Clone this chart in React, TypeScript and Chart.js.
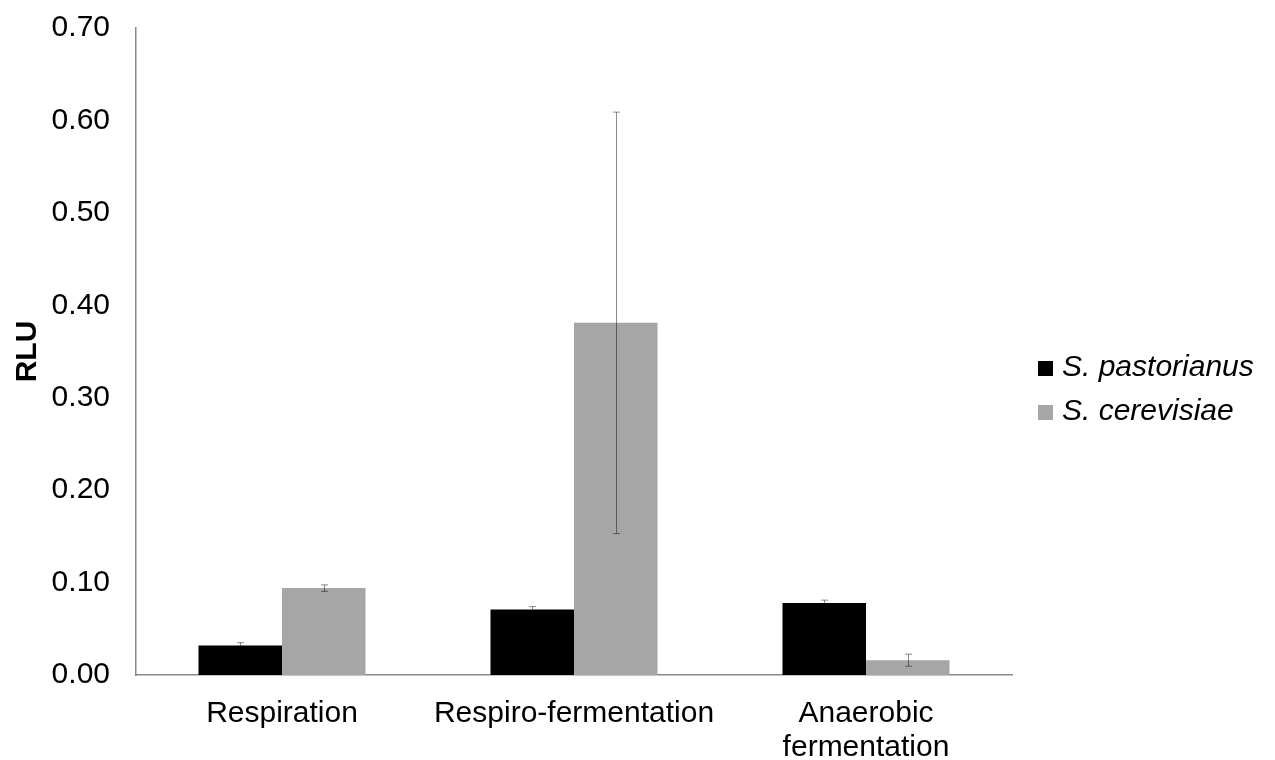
import React, { useEffect, useRef } from "react";
import { Chart, registerables } from "chart.js";

Chart.register(...registerables);

// Growth conditions on the x axis
const categories: (string | string[])[] = [
  "Respiration",
  "Respiro-fermentation",
  ["Anaerobic", "fermentation"],
];

// Series names
const seriesNames = ["S. pastorianus", "S. cerevisiae"];

// Mean RLU per condition and standard deviation
const pastorianusValues = [0.032, 0.071, 0.078];
const pastorianusErrors = [0.003, 0.003, 0.003];
const cerevisiaeValues = [0.094, 0.381, 0.016];
const cerevisiaeErrors = [0.0035, 0.228, 0.0065];

const yTicks = [0, 0.1, 0.2, 0.3, 0.4, 0.5, 0.6, 0.7];

const FONT = "'Liberation Sans', Arial, sans-serif";
const seriesColors = ["#000000", "#a6a6a6"];

// Draws symmetric error bars centred on each bar
const errorBarPlugin = {
  id: "errorBars",
  afterDatasetsDraw(chart: any) {
    const ctx = chart.ctx;
    const yScale = chart.scales.y;
    const errs = [pastorianusErrors, cerevisiaeErrors];
    ctx.save();
    ctx.strokeStyle = "rgba(0,0,0,0.45)";
    ctx.lineWidth = 1;
    chart.data.datasets.forEach((ds: any, di: number) => {
      const meta = chart.getDatasetMeta(di);
      meta.data.forEach((bar: any, i: number) => {
        const v = ds.data[i];
        const e = errs[di][i];
        const x = Math.round(bar.x) + 0.5;
        const yTop = yScale.getPixelForValue(v + e);
        const yBot = yScale.getPixelForValue(v - e);
        const cap = 3.5;
        ctx.beginPath();
        ctx.moveTo(x, yTop);
        ctx.lineTo(x, yBot);
        ctx.moveTo(x - cap, yTop);
        ctx.lineTo(x + cap, yTop);
        ctx.moveTo(x - cap, yBot);
        ctx.lineTo(x + cap, yBot);
        ctx.stroke();
      });
    });
    ctx.restore();
  },
};

// Legend on the right side with square swatches
const sideLegendPlugin = {
  id: "sideLegend",
  afterDraw(chart: any) {
    const ctx = chart.ctx;
    const x0 = 1038;
    const rows = [376, 420];
    ctx.save();
    ctx.font = `italic 30px ${FONT}`;
    ctx.textBaseline = "alphabetic";
    ctx.textAlign = "left";
    chart.data.datasets.forEach((ds: any, i: number) => {
      const base = rows[i];
      ctx.fillStyle = ds.backgroundColor;
      ctx.fillRect(x0, base - 15, 15, 15);
      ctx.fillStyle = "#000";
      ctx.fillText(ds.label, x0 + 24, base);
    });
    ctx.restore();
  },
};

export default function App() {
  const canvasRef = useRef<HTMLCanvasElement | null>(null);

  useEffect(() => {
    if (!canvasRef.current) return;
    const chart = new Chart(canvasRef.current, {
      type: "bar",
      data: {
        labels: categories,
        datasets: [
          {
            label: seriesNames[0],
            data: pastorianusValues,
            backgroundColor: seriesColors[0],
            barPercentage: 1,
            categoryPercentage: 0.572,
          },
          {
            label: seriesNames[1],
            data: cerevisiaeValues,
            backgroundColor: seriesColors[1],
            barPercentage: 1,
            categoryPercentage: 0.572,
          },
        ],
      },
      options: {
        animation: false,
        responsive: false,
        layout: { padding: { top: 28, right: 263, left: 0, bottom: 0 } },
        plugins: {
          legend: { display: false },
          tooltip: { enabled: false },
        },
        scales: {
          x: {
            grid: { display: false, drawTicks: false },
            border: { display: true, color: "#8a8a8a", width: 1.5 },
            ticks: {
              color: "#000",
              padding: 22,
              maxRotation: 0,
              autoSkip: false,
              font: { family: FONT, size: 30, lineHeight: 1.13 },
            },
            afterFit(scale: any) {
              scale.height = 85;
              scale.paddingLeft = 0;
              scale.paddingRight = 0;
            },
          },
          y: {
            min: 0,
            max: 0.7,
            afterBuildTicks(scale: any) {
              scale.ticks = yTicks.map((v) => ({ value: v }));
            },
            grid: { display: false, drawTicks: false },
            border: { display: true, color: "#8a8a8a", width: 1.5 },
            ticks: {
              color: "#000",
              padding: 26,
              font: { family: FONT, size: 30 },
              callback: (v: any) => Number(v).toFixed(2),
            },
            title: {
              display: true,
              text: "RLU",
              color: "#000",
              padding: { top: 10, bottom: 0 },
              font: { family: FONT, size: 30, weight: "bold" },
            },
            afterFit(scale: any) {
              scale.width = 136;
              scale.paddingTop = 0;
              scale.paddingBottom = 0;
            },
          },
        },
      },
      plugins: [errorBarPlugin, sideLegendPlugin],
    });
    return () => chart.destroy();
  }, []);

  return (
    <div style={{ position: "absolute", left: 0, top: 0, width: 1275, height: 760, background: "#fff" }}>
      <canvas ref={canvasRef} width={1275} height={760} />
    </div>
  );
}
